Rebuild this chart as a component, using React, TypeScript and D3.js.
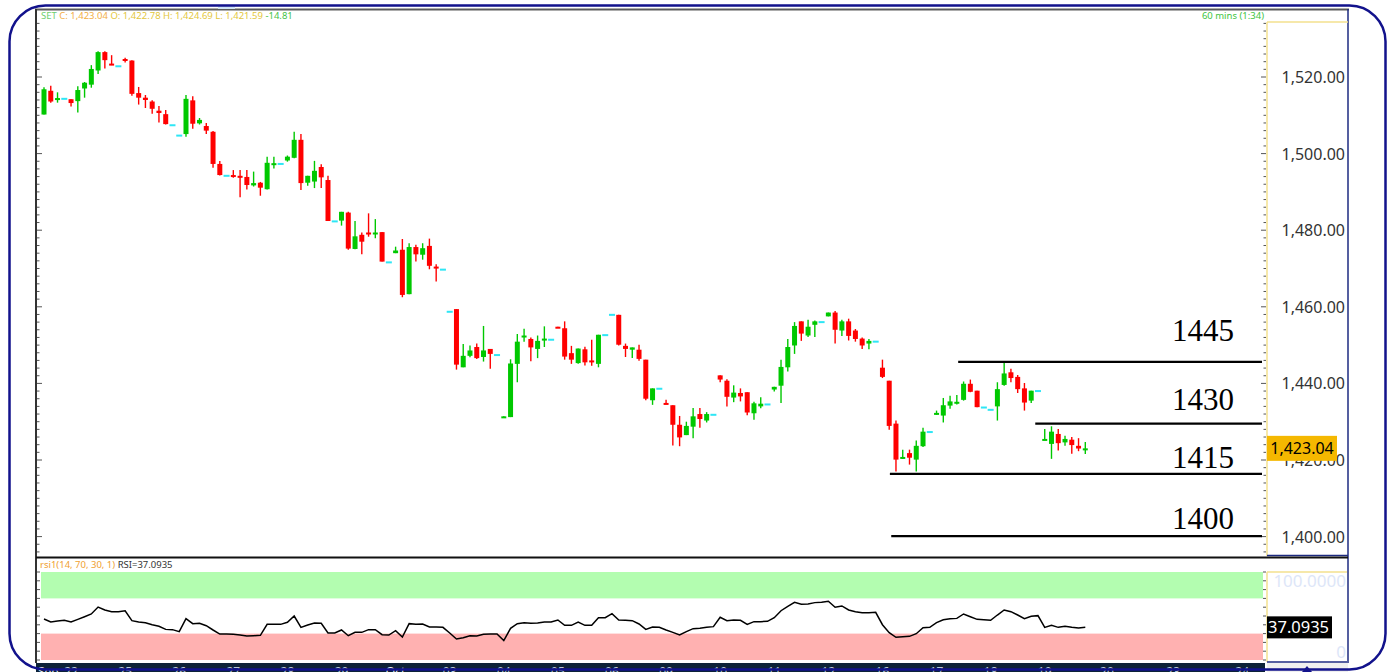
import React from "react";
import * as d3 from "d3";

const opens = [1510.2,1516.4,1514.2,1514.3,1514.2,1513.7,1517.0,1518.0,1521.7,1526.5,1523.5,1522.8,1524.7,1524.3,1515.8,1514.6,1513.6,1511.2,1510.3,1507.4,1504.7,1505.1,1513.9,1507.9,1507.2,1505.7,1497.3,1494.2,1494.4,1494.2,1493.9,1491.7,1492.4,1490.7,1497.1,1497.3,1498.2,1498.9,1503.6,1492.4,1492.7,1496.5,1493.1,1482.3,1482.5,1484.6,1475.1,1478.8,1479.4,1478.9,1479.5,1471.6,1474.0,1474.9,1463.3,1475.6,1473.6,1475.9,1470.5,1469.7,1458.7,1459.4,1444.2,1447.2,1449.5,1446.9,1449.0,1447.4,1431.2,1431.2,1445.1,1452.2,1451.6,1449.0,1451.3,1451.4,1454.8,1454.4,1447.9,1445.3,1448.9,1446.0,1445.1,1452.6,1457.9,1457.9,1449.8,1448.8,1448.8,1446.2,1435.6,1438.6,1434.9,1434.3,1429.2,1426.5,1428.7,1432.0,1430.3,1431.8,1442.1,1440.7,1436.3,1437.5,1437.7,1432.2,1434.0,1434.5,1438.4,1439.4,1444.2,1449.9,1456.2,1452.5,1455.3,1456.0,1457.5,1458.5,1453.8,1456.2,1453.8,1451.7,1450.4,1450.9,1444.1,1440.7,1429.5,1420.4,1421.8,1420.1,1423.6,1427.3,1431.9,1431.6,1434.2,1434.9,1435.7,1439.9,1438.1,1433.7,1433.1,1434.0,1439.6,1442.9,1441.7,1438.7,1435.5,1438.0,1425.3,1424.2,1426.8,1424.6,1425.3,1423.7,1422.78];
const highs = [1517.3,1517.7,1516.0,1514.3,1514.2,1517.6,1518.7,1523.1,1526.7,1526.7,1525.7,1522.8,1525.0,1524.4,1517.4,1515.3,1513.9,1512.4,1511.4,1507.4,1504.7,1515.3,1515.0,1509.3,1508.0,1505.9,1498.1,1494.2,1495.7,1495.7,1495.7,1495.3,1492.6,1499.2,1499.2,1497.3,1499.5,1505.7,1505.1,1494.2,1498.1,1497.2,1494.2,1482.3,1484.8,1484.8,1482.4,1479.4,1484.4,1482.9,1479.5,1471.6,1475.7,1477.7,1476.6,1476.2,1476.6,1477.8,1471.1,1469.7,1458.7,1459.4,1450.3,1449.9,1450.4,1455.0,1449.0,1447.4,1431.4,1446.3,1452.9,1454.3,1452.0,1452.5,1454.9,1451.4,1454.8,1456.2,1449.8,1449.1,1449.6,1451.4,1452.7,1452.6,1457.9,1457.9,1450.4,1449.4,1450.1,1446.2,1438.7,1438.6,1435.7,1434.3,1431.5,1430.0,1433.6,1433.6,1432.5,1431.8,1442.1,1441.1,1439.5,1438.7,1437.7,1435.2,1436.4,1434.5,1439.1,1446.2,1451.6,1456.0,1456.2,1456.6,1456.4,1456.0,1458.5,1458.9,1456.6,1456.9,1454.2,1452.0,1451.6,1450.9,1446.2,1440.7,1430.3,1422.7,1422.7,1425.1,1428.4,1427.3,1432.9,1436.2,1436.8,1437.0,1440.5,1441.0,1438.1,1433.7,1433.1,1440.3,1445.3,1443.8,1442.2,1440.1,1438.1,1438.0,1428.1,1428.8,1428.1,1426.3,1426.0,1425.7,1424.69];
const lows = [1510.2,1513.3,1513.3,1514.3,1512.3,1510.7,1514.6,1517.2,1520.8,1522.2,1523.1,1522.8,1523.8,1515.1,1512.8,1511.9,1510.4,1508.1,1507.6,1507.4,1504.7,1504.4,1506.5,1507.6,1505.1,1496.3,1494.3,1494.2,1493.7,1488.6,1490.6,1491.4,1489.0,1490.6,1496.1,1497.3,1497.9,1498.8,1490.5,1491.6,1491.0,1491.0,1482.4,1482.3,1481.2,1474.9,1475.0,1473.7,1478.3,1477.9,1471.8,1471.6,1474.0,1462.5,1463.3,1471.8,1472.3,1469.8,1466.6,1469.7,1458.7,1443.6,1444.2,1446.8,1446.4,1445.7,1443.8,1447.4,1431.2,1431.2,1440.3,1450.9,1445.8,1446.6,1449.5,1451.4,1454.6,1446.2,1445.1,1445.1,1444.7,1444.6,1444.2,1452.6,1457.9,1449.9,1446.9,1446.6,1445.9,1435.6,1434.4,1438.6,1434.6,1423.8,1423.6,1426.5,1425.7,1428.4,1429.8,1431.8,1440.3,1434.0,1435.1,1435.3,1431.7,1430.5,1433.5,1434.5,1437.9,1434.9,1443.1,1447.7,1451.1,1452.1,1452.1,1456.0,1457.5,1450.4,1452.4,1451.2,1450.9,1449.0,1448.9,1450.9,1441.4,1427.9,1417.0,1420.3,1418.8,1417.0,1423.4,1427.3,1431.8,1429.8,1433.4,1434.5,1435.5,1437.7,1433.8,1433.7,1433.1,1430.3,1439.4,1440.3,1437.5,1432.9,1434.9,1438.0,1425.3,1420.3,1422.5,1423.7,1421.6,1422.3,1421.59];
const closes = [1516.8,1513.6,1514.5,1514.3,1513.2,1516.6,1518.5,1522.1,1526.5,1524.4,1523.1,1522.8,1524.2,1515.6,1514.6,1514.0,1511.7,1510.6,1507.7,1507.4,1504.7,1514.3,1507.8,1508.8,1506.0,1497.3,1494.4,1494.2,1494.0,1493.7,1491.8,1492.3,1491.1,1497.6,1497.5,1497.3,1499.2,1503.6,1492.3,1494.2,1495.5,1493.8,1482.4,1482.3,1484.8,1475.2,1478.4,1477.0,1478.9,1479.4,1471.8,1471.6,1474.7,1463.1,1475.6,1473.7,1475.3,1470.7,1470.0,1469.7,1458.7,1444.9,1447.2,1448.6,1446.6,1448.6,1447.7,1447.4,1431.4,1445.2,1450.9,1452.5,1449.4,1451.1,1451.7,1451.4,1454.6,1447.0,1446.2,1449.1,1445.5,1445.5,1452.7,1452.6,1457.9,1450.1,1449.0,1449.4,1446.4,1436.0,1438.7,1438.6,1434.6,1429.2,1425.9,1428.9,1431.4,1430.7,1432.0,1431.8,1441.0,1436.5,1437.6,1436.6,1432.4,1434.8,1434.7,1434.5,1439.1,1444.3,1449.5,1455.0,1453.0,1454.8,1456.2,1456.0,1458.5,1454.0,1456.2,1452.4,1451.6,1449.9,1451.1,1450.9,1441.7,1428.9,1420.1,1420.8,1420.6,1423.7,1427.4,1427.3,1432.3,1434.3,1435.3,1435.2,1439.9,1437.8,1433.8,1433.7,1433.1,1438.5,1442.6,1441.4,1438.5,1435.0,1438.1,1438.0,1425.5,1427.4,1424.4,1425.5,1423.9,1423.0,1423.04];
const rsiValues = [46.6,43.2,44.3,45.1,43.2,46.2,49.2,52.3,60.2,56.8,54.9,54.9,56.0,44.7,43.2,42.4,40.1,38.3,34.8,34.5,32.2,47.0,41.3,41.7,39.0,34.1,29.5,29.5,29.2,28.4,27.3,27.6,28.0,40.5,40.5,40.5,42.8,50.0,37.1,39.8,42.0,41.7,30.7,30.7,34.1,27.6,31.4,31.4,34.5,34.5,28.8,28.4,33.3,26.1,41.3,40.5,40.9,37.5,37.5,37.1,30.7,23.9,25.4,27.6,27.3,29.2,29.5,29.5,22.0,36.0,41.3,42.4,41.7,42.0,43.2,43.2,45.5,39.4,39.4,43.2,39.4,39.4,48.1,48.1,52.6,45.5,45.1,44.7,40.9,34.8,37.5,37.1,34.1,31.4,28.4,32.2,35.6,36.0,37.1,37.9,48.5,44.7,45.5,45.1,40.5,43.6,43.6,43.9,48.1,56.0,61.0,65.5,63.3,63.6,65.2,65.5,66.7,59.9,61.4,56.8,54.9,53.8,53.8,54.2,40.1,31.1,25.8,26.5,26.9,29.9,36.7,37.1,42.4,45.8,47.0,47.3,52.3,49.2,46.2,45.8,45.1,51.1,56.8,54.9,51.1,47.0,49.6,50.4,37.1,39.4,37.1,38.3,37.1,36.4,37.0935];

const dayTicks = ["Sep","22","25","26","27","28","29","Oct","03","04","05","06","09","10","11","12","16","17","18","19"];
const barsPerDay = 8;
const firstDaySlot = -4;
const futureTicks = ["20","23","24"];
const futureTickSlots = [157.2,167,177.2];
const priceTicks = [1400,1420,1440,1460,1480,1500,1520];
const levelLabels = ["1445","1430","1415","1400"];
const levelValues = [1445.6,1429.5,1416.4,1400.1];
const levelStartSlots = [135.2,146.6,125.1,125.3];
const levelLabelOffsets = [-21,-14,-6,-7.5];
const lastPrice = 1423.04;
const lastRsi = 37.0935;

const FONT = "'Noto Sans', 'Open Sans', sans-serif";
const GREEN = "#00c800";
const RED = "#ff0000";
const CYAN = "#2ee6f5";

export default function App() {
  const W = 1391, H = 672;
  const plotL = 36, plotR = 1265, plotT = 22, plotB = 556;
  const x = d3.scaleLinear().domain([0, 154]).range([44, 1085.3]);
  const y = d3.scaleLinear().domain([1400, 1520]).range([536.6, 77]);
  const ry = d3.scaleLinear().domain([0, 100]).range([660, 572]);
  const bodyW = 5;

  const candles = opens.map((o, i) => ({ o, h: highs[i], l: lows[i], c: closes[i], i }));
  const rsiLine = d3.line<number>().x((_, i) => x(i)).y((d) => ry(d))(rsiValues) || "";

  const minorTicks = d3.range(1386, 1536, 2);
  const rsiTicks = d3.range(0, 101, 10);

  const dateTicks = [
    ...dayTicks.map((t, k) => ({ t, s: firstDaySlot + k * barsPerDay })),
    ...futureTicks.map((t, k) => ({ t, s: futureTickSlots[k] })),
  ];

  return (
    <svg width={W} height={H} style={{ position: "absolute", left: 0, top: 0, display: "block", background: "#fff" }}>
      <defs>
        <clipPath id="plotClip">
          <rect x={plotL + 1} y={plotT} width={plotR - plotL - 1} height={plotB - plotT} />
        </clipPath>
      </defs>
      <rect x={0} y={0} width={W} height={H} fill="#fff" />

      {/* window frame */}
      <line x1={35} x2={1349} y1={9.5} y2={9.5} stroke="#5a5a5a" strokeWidth={2} />
      <rect x={218} y={6} width={17} height={3} fill="#cfe3f5" />
      <line x1={36} x2={36} y1={9} y2={663} stroke="#333" strokeWidth={2} />
      <line x1={1348} x2={1348} y1={9} y2={663} stroke="#1c2a80" strokeWidth={1.5} />

      {/* header */}
      <text x={41} y={19} fontFamily={FONT} fontSize={9.5}>
        <tspan fill="#6fcf6f">SET </tspan>
        <tspan fill="#f2ae45">C: 1,423.04 </tspan>
        <tspan fill="#e3c73c">O: 1,422.78 H: 1,424.69 L: 1,421.59 </tspan>
        <tspan fill="#45c245">-14.81</tspan>
      </text>
      <text x={1264} y={19} textAnchor="end" fontFamily={FONT} fontSize={9.5} fill="#3ec43e">60 mins (1:34)</text>

      {/* price axis panel */}
      <line x1={1267} x2={1267} y1={22} y2={556} stroke="#f3e08e" strokeWidth={1.5} />
      <line x1={1267} x2={1348} y1={22} y2={22} stroke="#f3e08e" strokeWidth={1.5} />
      <line x1={1267} x2={1348} y1={555.5} y2={555.5} stroke="#1c2a80" strokeWidth={1.5} />
      {minorTicks.map((p) => {
        const yy = y(p);
        if (yy < plotT || yy > plotB) return null;
        const major = p % 20 === 0;
        return (
          <g key={"mt" + p}>
            <line x1={37} x2={major ? 42 : 39.5} y1={yy} y2={yy} stroke="#555" strokeWidth={1} />
            <line x1={major ? 1261 : 1263.5} x2={1266} y1={yy} y2={yy} stroke="#555" strokeWidth={1} />
          </g>
        );
      })}
      {priceTicks.map((p) => (
        <text key={"pl" + p} x={1345} y={y(p) + 6} textAnchor="end" fontFamily={FONT} fontSize={16} fill="#333">
          {d3.format(",.2f")(p)}
        </text>
      ))}

      {/* candles */}
      <g clipPath="url(#plotClip)">
        {candles.map((d) => {
          const cx = x(d.i);
          const doji = Math.abs(d.c - d.o) < 0.05;
          if (doji) {
            return <rect key={"c" + d.i} x={cx - 3} y={y(d.c) - 1} width={6} height={2} fill={CYAN} />;
          }
          const col = d.c > d.o ? GREEN : RED;
          const top = y(Math.max(d.o, d.c));
          const bot = y(Math.min(d.o, d.c));
          const bh = Math.max(bot - top, 2);
          return (
            <g key={"c" + d.i}>
              <line x1={cx} x2={cx} y1={y(d.h)} y2={y(d.l)} stroke={col} strokeWidth={1.4} />
              <rect x={cx - bodyW / 2} y={top} width={bodyW} height={bh} fill={col} />
            </g>
          );
        })}
      </g>

      {/* support/resistance levels */}
      {levelValues.map((v, k) => (
        <g key={"lv" + k}>
          <line x1={x(levelStartSlots[k])} x2={1262} y1={y(v)} y2={y(v)} stroke="#000" strokeWidth={2.2} />
          <text x={1234} y={y(v) + levelLabelOffsets[k]} textAnchor="end" fontFamily="'Liberation Serif', 'Times New Roman', serif" fontSize={31} fill="#000">
            {levelLabels[k]}
          </text>
        </g>
      ))}

      {/* last price box */}
      <rect x={1267} y={y(lastPrice) - 12.5} width={70} height={25} fill="#f5b800" />
      <text x={1302} y={y(lastPrice) + 6} textAnchor="middle" fontFamily={FONT} fontSize={16} fill="#000">
        {d3.format(",.2f")(lastPrice)}
      </text>

      {/* separator */}
      <line x1={36} x2={1348} y1={557.5} y2={557.5} stroke="#111" strokeWidth={2} />

      {/* RSI panel */}
      <text x={40} y={568} fontFamily={FONT} fontSize={9.5}>
        <tspan fill="#f0a030">rsi1(14, 70, 30, 1) </tspan>
        <tspan fill="#333">RSI=37.0935</tspan>
      </text>
      <rect x={41} y={ry(100)} width={1222} height={ry(70) - ry(100)} fill="#b3fdb0" />
      <rect x={41} y={ry(30)} width={1222} height={ry(0) - ry(30)} fill="#ffb1b1" />
      {rsiTicks.map((t) => (
        <g key={"rt" + t}>
          <line x1={37} x2={40} y1={ry(t)} y2={ry(t)} stroke="#555" strokeWidth={1} />
          <line x1={1263} x2={1266} y1={ry(t)} y2={ry(t)} stroke="#555" strokeWidth={1} />
        </g>
      ))}
      <path d={rsiLine} fill="none" stroke="#000" strokeWidth={1.5} />
      <line x1={1267} x2={1267} y1={572} y2={662} stroke="#f3e08e" strokeWidth={1.5} />
      <line x1={1267} x2={1347} y1={572} y2={572} stroke="#f3e08e" strokeWidth={1.5} />
      <line x1={1267} x2={1347} y1={662} y2={662} stroke="#1c2a80" strokeWidth={1.5} />
      <text x={1346} y={587} textAnchor="end" fontFamily={FONT} fontSize={17} fill="#dde6f8">100.0000</text>
      <text x={1346} y={658} textAnchor="end" fontFamily={FONT} fontSize={17} fill="#dde6f8">0</text>
      <rect x={1267} y={ry(lastRsi) - 11} width={65} height={22} fill="#000" />
      <text x={1268} y={ry(lastRsi) + 6} fontFamily={FONT} fontSize={16.5} fill="#fff">
        {d3.format(".4f")(lastRsi)}
      </text>

      {/* time axis */}
      <rect x={36} y={663} width={1229} height={9} fill="#0d2238" />
      <rect x={1267} y={663} width={81} height={9} fill="#efefef" />
      {dateTicks.map((d, k) => {
        const px = x(d.s);
        const clamped = px < 40;
        return (
          <text key={"dt" + k} x={clamped ? 38 : px} y={676} textAnchor={clamped ? "start" : "middle"} fontFamily={FONT} fontSize={12} fill={d.t === "Oct" || d.t === "Sep" ? "#e8eef5" : "#b9c7d6"}>
            {d.t}
          </text>
        );
      })}

      {/* outer rounded border */}
      <rect x={9.5} y={5.5} width={1376} height={664} rx={36} ry={36} fill="none" stroke="#12128c" strokeWidth={2.5} />
      <path d="M1302,672 L1307,666 L1312,672 Z" fill="#12128c" />
    </svg>
  );
}
